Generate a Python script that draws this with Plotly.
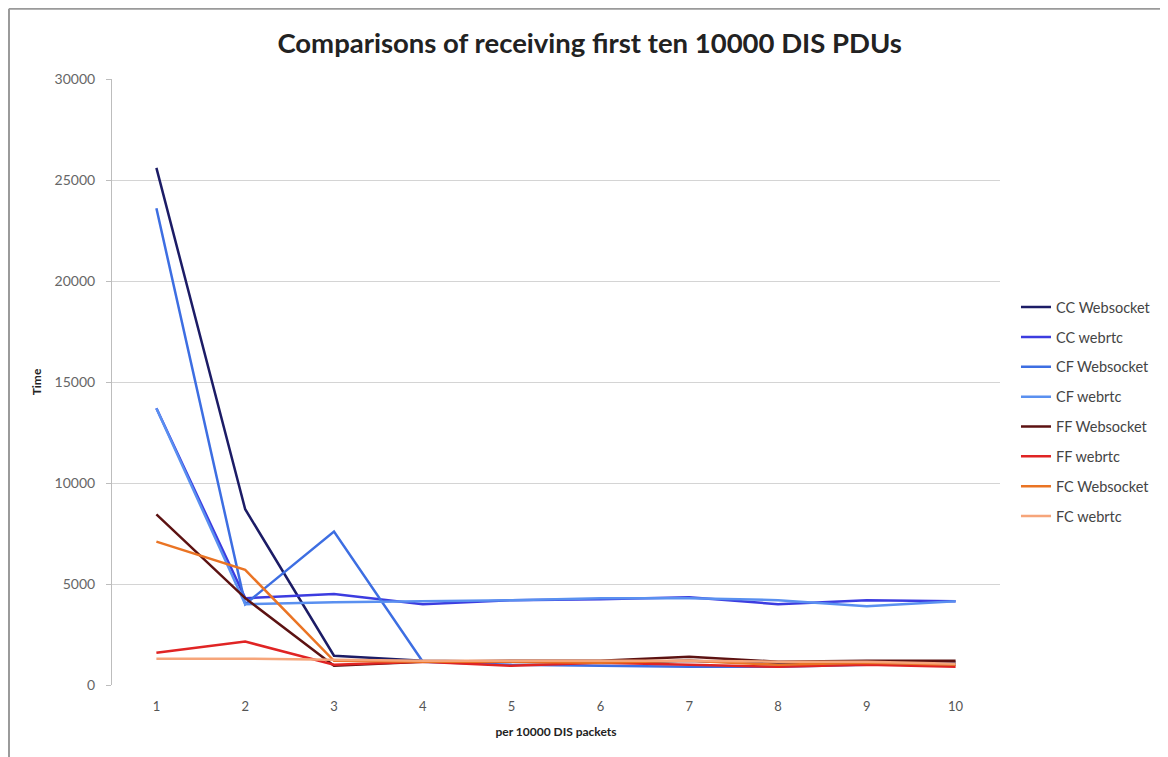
import plotly.graph_objects as go

categories = ["1", "2", "3", "4", "5", "6", "7", "8", "9", "10"]
series_names = ["CC Websocket", "CC webrtc", "CF Websocket", "CF webrtc",
                "FF Websocket", "FF webrtc", "FC Websocket", "FC webrtc"]
cc_websocket = [25600, 8700, 1450, 1200, 1150, 1100, 1200, 1050, 1100, 1100]
cc_webrtc = [13700, 4300, 4500, 4000, 4200, 4250, 4350, 4000, 4200, 4150]
cf_websocket = [23600, 4000, 7600, 1150, 1000, 950, 900, 900, 1000, 1000]
cf_webrtc = [13700, 4000, 4100, 4150, 4200, 4300, 4300, 4200, 3900, 4150]
ff_websocket = [8450, 4300, 950, 1150, 1200, 1200, 1400, 1150, 1200, 1200]
ff_webrtc = [1600, 2150, 1000, 1150, 950, 1100, 1000, 900, 1000, 900]
fc_websocket = [7100, 5700, 1200, 1150, 1150, 1100, 1200, 1000, 1100, 1000]
fc_webrtc = [1300, 1300, 1250, 1200, 1200, 1200, 1200, 1150, 1150, 1050]

series_values = [cc_websocket, cc_webrtc, cf_websocket, cf_webrtc,
                 ff_websocket, ff_webrtc, fc_websocket, fc_webrtc]
colors = ["#1c1c66", "#3c3ce0", "#3d6ee2", "#5a90f0",
          "#5c1212", "#e02424", "#ea7424", "#f6a57a"]

fig = go.Figure()
for i, (name, vals, col) in enumerate(zip(series_names, series_values, colors)):
    fig.add_trace(go.Scatter(
        x=categories, y=vals, name=name, mode="lines",
        line=dict(color=col, width=2.5),
        legendgroup=f"g{i}",
    ))

fig.update_layout(
    width=1168, height=757,
    paper_bgcolor="white", plot_bgcolor="white",
    margin=dict(l=104, r=176, t=71, b=80),
    title=dict(text="<b>Comparisons of receiving first ten 10000 DIS PDUs</b>",
               x=0.498, xanchor="center", y=0.953, yanchor="middle",
               font=dict(family="Lato", size=27.5, color="#222222")),
    font=dict(family="Lato", color="#444444"),
    showlegend=True,
    legend=dict(x=1.018, xanchor="left", y=0.451, yanchor="middle",
                traceorder="grouped", tracegroupgap=8,
                font=dict(family="Lato", size=14.5, color="#444444"),
                bgcolor="rgba(0,0,0,0)"),
    xaxis=dict(type="category", range=[-0.5, 9.5], showgrid=False,
               zeroline=False, showline=False, ticks="",
               ticklabelstandoff=12,
               tickfont=dict(size=13, color="#555555"),
               title=dict(text="<b>per 10000 DIS packets</b>", standoff=14,
                          font=dict(size=12, color="#222222"))),
    yaxis=dict(range=[0, 30000], dtick=5000, showgrid=True,
               gridcolor="#d4d4d4", gridwidth=1, zeroline=False,
               showline=True, linecolor="#bdbdbd", linewidth=1,
               ticks="outside", ticklen=5, tickcolor="#bdbdbd",
               tickformat="d", ticklabelstandoff=8,
               tickfont=dict(size=14, color="#666666"),
               title=dict(text="<b>Time</b>", standoff=10,
                          font=dict(size=12, color="#222222"))),
)

# chart frame (top and left borders)
fig.add_shape(type="line", xref="paper", yref="paper",
              x0=-0.116, x1=1.25, y0=1.116, y1=1.116,
              line=dict(color="#9a9a9a", width=2))
fig.add_shape(type="line", xref="paper", yref="paper",
              x0=-0.116, x1=-0.116, y0=1.116, y1=-0.15,
              line=dict(color="#9a9a9a", width=2))

fig.write_html("out.html")
